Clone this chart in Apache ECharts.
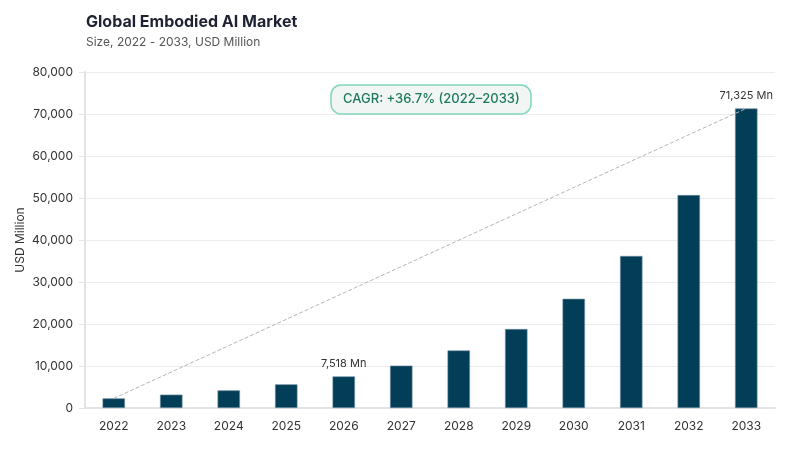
<!DOCTYPE html>
<html><head><meta charset="utf-8">
<script src="https://cdn.jsdelivr.net/npm/echarts@6/dist/echarts.min.js"></script>
<style>html,body{margin:0;padding:0;background:#fff}#c{width:800px;height:450px}</style>
</head><body><div id="c"></div>
<script>
const years = ['2022','2023','2024','2025','2026','2027','2028','2029','2030','2031','2032','2033'];
const values = [2290, 3180, 4200, 5630, 7518, 10100, 13700, 18800, 26000, 36200, 50700, 71325];
const labeledYears = ['2026','2033'];
const cagrText = 'CAGR: +36.7% (2022–2033)';
const font = 'Inter, "Noto Sans", sans-serif';

const chart = echarts.init(document.getElementById('c'), null, {renderer:'canvas'});
chart.setOption({
  animation:false,
  textStyle:{fontFamily:font},
  title:[
    {text:'Global Embodied AI Market', subtext:'Size, 2022 - 2033, USD Million', left:81, top:9,
     textStyle:{fontSize:16, fontWeight:'bold', color:'#1f2233', fontFamily:font},
     subtextStyle:{fontSize:12, color:'#555', fontFamily:font}, itemGap:6},
    {text:cagrText, left:331, top:85, padding:[8,12,8,12], backgroundColor:'#f1f6f5', borderColor:'#7fd6b9', borderWidth:1.5, borderRadius:10,
     textStyle:{fontSize:13, fontWeight:500, color:'#1e7a5e', fontFamily:font}}
  ],
  grid:{left:85, right:25, top:72, bottom:42},
  xAxis:{type:'category', data:years,
    axisLine:{lineStyle:{color:'#e3e3e8', width:2}}, axisTick:{show:false},
    axisLabel:{color:'#333', fontSize:12, margin:12, fontFamily:font}},
  yAxis:{type:'value', min:0, max:80000, interval:10000, name:'USD Million', nameLocation:'middle', nameGap:59, nameMoveOverlap:false,
    nameTextStyle:{color:'#333', fontSize:12, fontFamily:font},
    axisLine:{show:true, lineStyle:{color:'#e3e3e8', width:2}},
    axisTick:{show:true, length:6, lineStyle:{color:'#e3e3e8'}},
    axisLabel:{color:'#333', fontSize:12, margin:12, fontFamily:font, formatter:v=>v.toLocaleString('en-US')},
    splitLine:{lineStyle:{color:'#ececec'}}},
  series:[{type:'bar', data:values, barWidth:'39%',
    itemStyle:{color:'#023e58', borderColor:'#6f8ea0', borderWidth:0.6},
    label:{show:true, position:'top', distance:7, color:'#333', fontSize:11, fontFamily:font,
      formatter:p=>labeledYears.includes(p.name)?p.value.toLocaleString('en-US')+' Mn':''},
    markLine:{symbol:'none', silent:true, label:{show:false},
      lineStyle:{type:'dashed', color:'#b5b5b5', width:1},
      data:[[{coord:[years[0], values[0]]},{coord:[years[years.length-1], values[values.length-1]]}]]}
  }]
});
</script></body></html>
